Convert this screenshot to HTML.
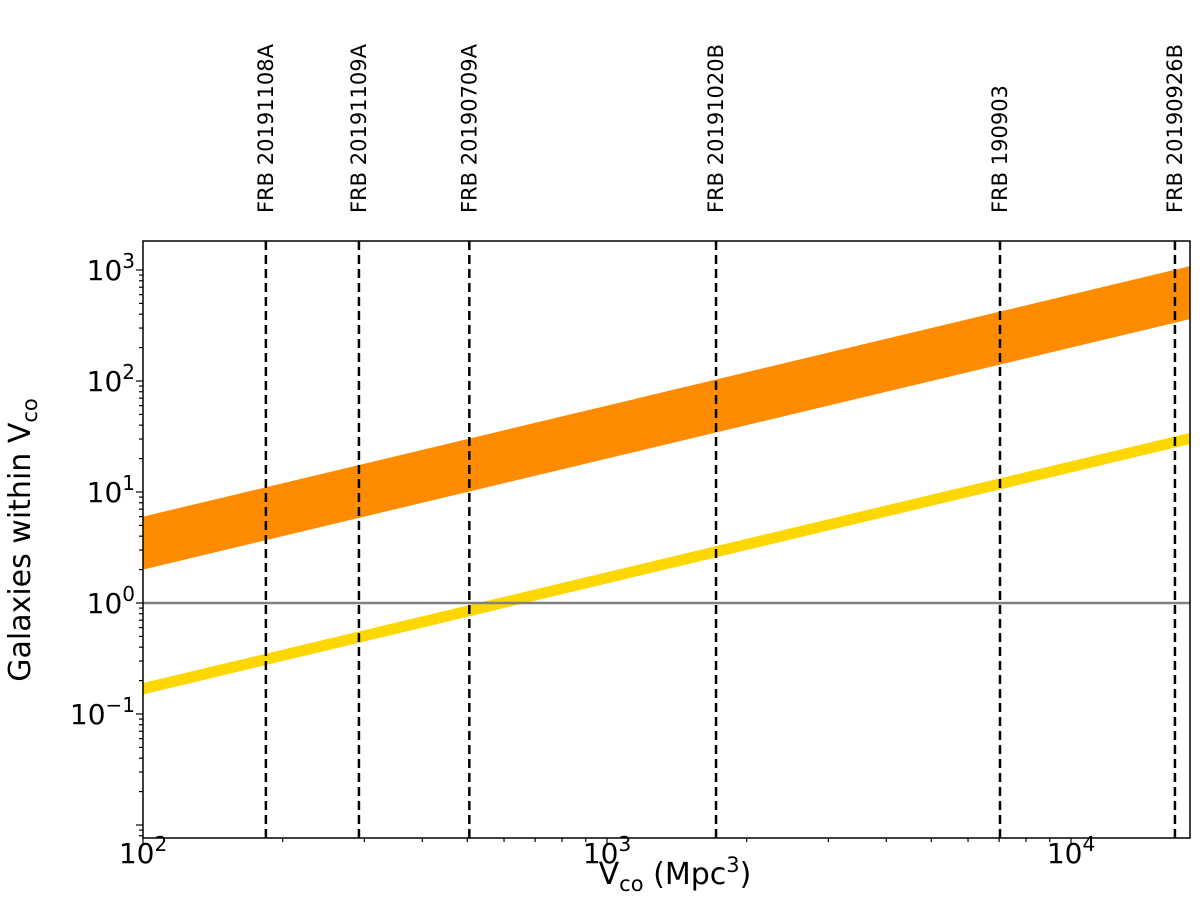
<!DOCTYPE html>
<html><head><meta charset="utf-8"><style>
body{margin:0;background:#fff;}
svg text{font-family:"DejaVu Sans","Liberation Sans",sans-serif;fill:#000;}
</style></head><body>
<svg id="chart" width="1200" height="904" viewBox="0 0 1200 904" xmlns="http://www.w3.org/2000/svg"></svg>
<script>
const frbNames = ["FRB 20191108A","FRB 20191109A","FRB 20190709A","FRB 20191020B","FRB 190903","FRB 20190926B"];
const frbVolumes = [184, 292, 505, 1718, 7030, 16750];
const bandVolumes = [100, 18000];
const orangeUpper = [6, 1080];
const orangeLower = [2, 360];
const yellowUpper = [0.19, 34];
const yellowLower = [0.15, 27];
const xTickExps = [2, 3, 4];
const yTickExps = [-1, 0, 1, 2, 3];

const L=143,R=1190,T=241,B=838;
const xmin=2, xmax=2+(R-L)/464;
const ymax=3+29/111, ymin=-1-124/111;
const X=v=>L+(Math.log10(v)-xmin)/(xmax-xmin)*(R-L);
const Y=v=>T+(ymax-Math.log10(v))/(ymax-ymin)*(B-T);
const svg=document.getElementById('chart');
const NS="http://www.w3.org/2000/svg";
function mk(tag,attrs,parent){const e=document.createElementNS(NS,tag);for(const k in attrs)e.setAttribute(k,attrs[k]);(parent||svg).appendChild(e);return e;}

const clip=mk('clipPath',{id:'pc'});mk('rect',{x:L,y:T,width:R-L,height:B-T},clip);

function band(up,lo,color,name){
  const pts=[];
  for(let i=0;i<bandVolumes.length;i++)pts.push(X(bandVolumes[i])+','+Y(up[i]));
  for(let i=bandVolumes.length-1;i>=0;i--)pts.push(X(bandVolumes[i])+','+Y(lo[i]));
  const p=mk('polygon',{points:pts.join(' '),fill:color,'clip-path':'url(#pc)'});
  
  
}
band(orangeUpper,orangeLower,'#ff8c00','orange-band');
band(yellowUpper,yellowLower,'#ffd700','yellow-band');

const h=mk('line',{x1:L,x2:R,y1:Y(1),y2:Y(1),stroke:'#808080','stroke-width':2.5});



frbVolumes.forEach((v,i)=>{
  const x=X(v);
  const ln=mk('line',{x1:x,x2:x,y1:T,y2:B,stroke:'#000','stroke-width':2.5,'stroke-dasharray':'9,5'});
  
  
  const t=mk('text',{x:0,y:0,'font-size':21,transform:`translate(${x+7},213) rotate(-90)`});
  t.textContent=frbNames[i];
  
  
});

const frame=mk('rect',{x:L,y:T,width:R-L,height:B-T,fill:'none',stroke:'#000','stroke-width':1.5});



for(let e=2;e<=4;e++)for(let m=1;m<10;m++){const v=m*Math.pow(10,e);const x=X(v);if(x>R+0.5)continue;
  mk('line',{x1:x,x2:x,y1:B,y2:B+(m===1?7:4),stroke:'#000','stroke-width':1.2});}
xTickExps.forEach(e=>{const t=mk('text',{x:X(Math.pow(10,e)),y:B+25,'font-size':28,'text-anchor':'middle'});
  t.innerHTML='10<tspan dy="-12" font-size="20">'+e+'</tspan>';
  
  });
for(let e=-3;e<=3;e++)for(let m=1;m<10;m++){const v=m*Math.pow(10,e);const y=Y(v);if(y<T-0.5||y>B+0.5)continue;
  mk('line',{x1:L,x2:L-(m===1?7:4),y1:y,y2:y,stroke:'#000','stroke-width':1.2});}
yTickExps.forEach(e=>{const t=mk('text',{x:L-8,y:Y(Math.pow(10,e))+10,'font-size':28,'text-anchor':'end'});
  t.innerHTML='10<tspan dy="-12" font-size="20">'+(e<0?'\u2212'+(-e):e)+'</tspan>';
  
  });

const xl=mk('text',{x:675,y:884,'font-size':30,'text-anchor':'middle'});
xl.innerHTML='V<tspan dy="7" font-size="21">co</tspan><tspan dy="-7"> (Mpc</tspan><tspan dy="-12" font-size="21">3</tspan><tspan dy="12">)</tspan>';


const yl=mk('text',{x:0,y:0,'font-size':30,'text-anchor':'middle',transform:'translate(30,540) rotate(-90)'});
yl.innerHTML='Galaxies within V<tspan dy="7" font-size="21">co</tspan>';


</script>
</body></html>
